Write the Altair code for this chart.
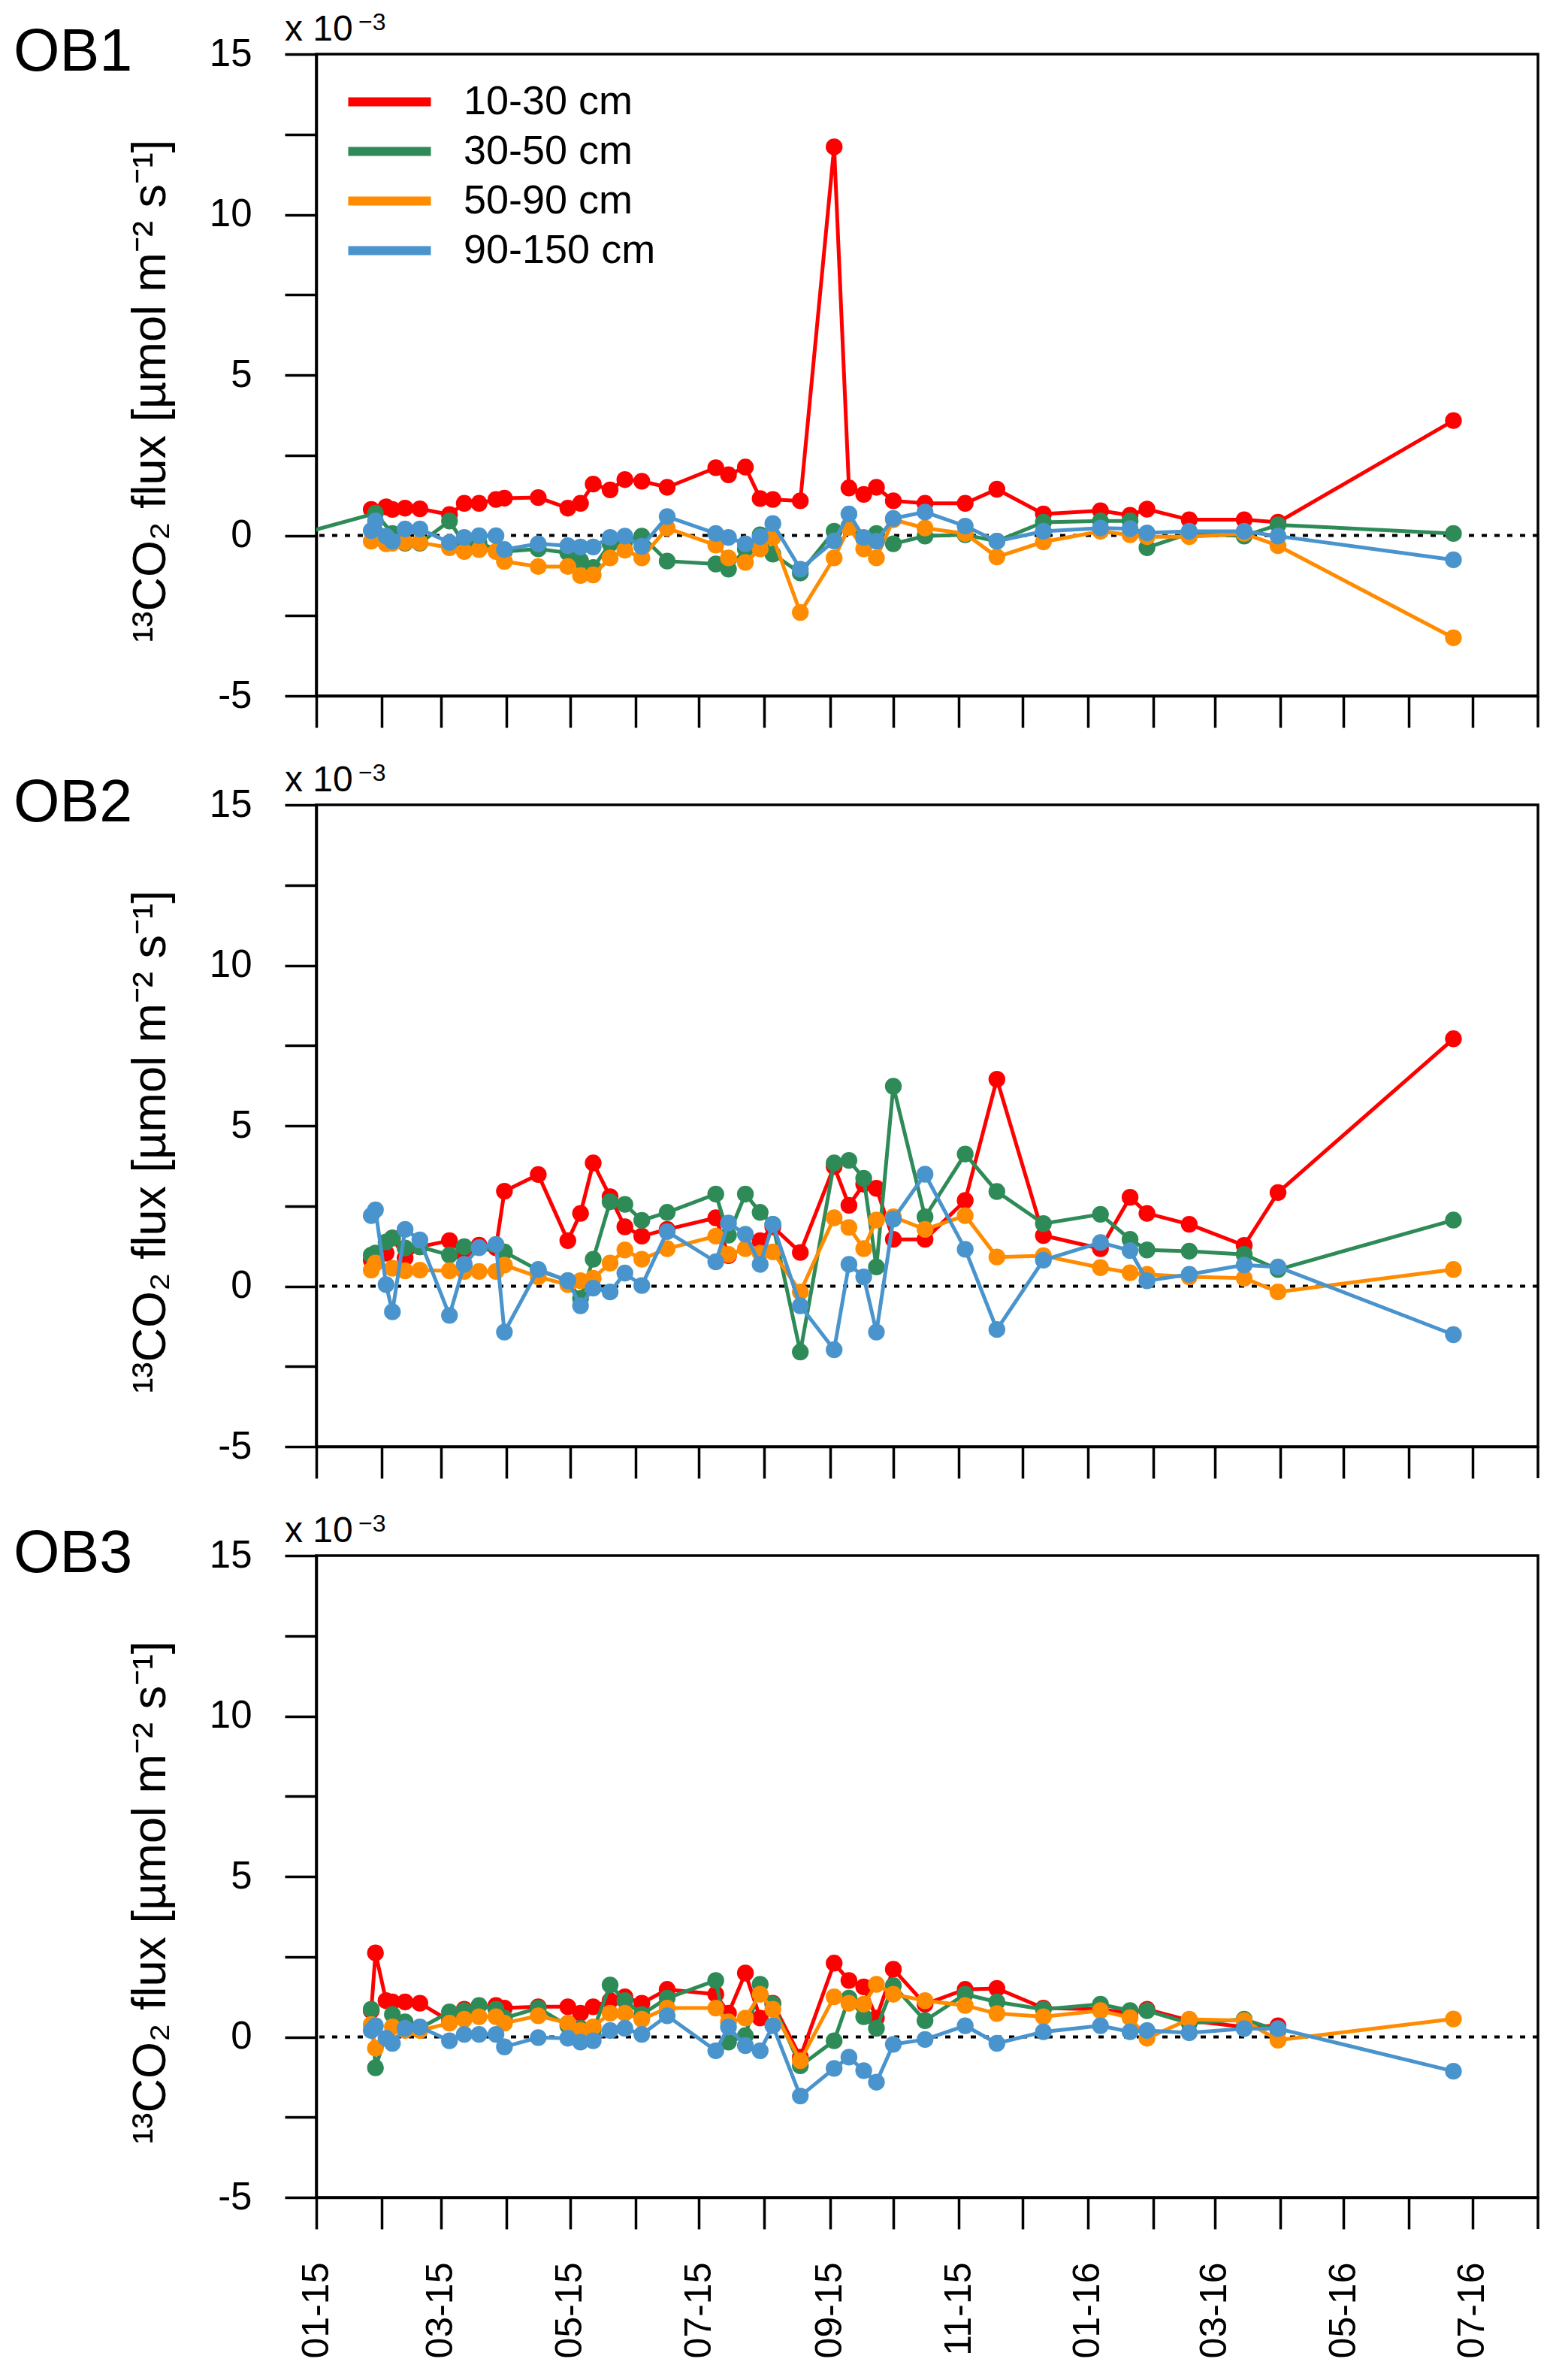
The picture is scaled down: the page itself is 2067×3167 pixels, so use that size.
import altair as alt
import pandas as pd

FONT = "Liberation Sans"

series = ["10-30 cm", "30-50 cm", "50-90 cm", "90-150 cm"]
colors = ["#ff0000", "#2e8b57", "#ff8c00", "#4a94cd"]

dates = ["2015-01-27", "2015-01-29", "2015-02-03", "2015-02-06", "2015-02-12", "2015-02-19",
         "2015-03-05", "2015-03-12", "2015-03-19", "2015-03-27", "2015-03-31", "2015-04-16",
         "2015-04-30", "2015-05-06", "2015-05-12", "2015-05-20", "2015-05-27", "2015-06-04",
         "2015-06-16", "2015-07-09", "2015-07-15", "2015-07-23", "2015-07-30", "2015-08-05",
         "2015-08-18", "2015-09-03", "2015-09-10", "2015-09-17", "2015-09-23", "2015-10-01",
         "2015-10-16", "2015-11-04", "2015-11-19", "2015-12-11", "2016-01-07", "2016-01-21",
         "2016-01-29", "2016-02-18", "2016-03-15", "2016-03-31", "2016-06-22"]

# OB1 (values in 1e-3 umol m-2 s-1)
ob1_red = [0.81, None, 0.89, 0.81, 0.85, 0.83, 0.65, 1.0, 1.0, 1.12, 1.16, 1.18,
           0.85, 1.0, 1.6, 1.42, 1.74, 1.69, 1.5, 2.11, 1.89, 2.13, 1.15, 1.12,
           1.08, 12.11, 1.48, 1.28, 1.5, 1.08, 1.0, 1.0, 1.44, 0.67, 0.77, 0.63,
           0.82, 0.49, 0.49, 0.41, 3.58]
ob1_green = [None, 0.69, None, 0.06, -0.24, -0.24, 0.45, -0.26, -0.25, None, -0.5, -0.42,
             -0.54, -0.78, -1.0, -0.26, -0.18, -0.02, -0.8, -0.89, -1.05, -0.42, 0.02, -0.58,
             -1.17, 0.13, 0.29, -0.1, 0.06, -0.26, -0.02, 0.02, -0.18, 0.41, 0.45, 0.45,
             -0.38, 0.06, -0.02, 0.33, 0.06]
ob1_orange = [-0.18, None, -0.26, -0.24, -0.22, -0.22, -0.38, -0.5, -0.44, -0.5, -0.81, -0.97,
              -0.97, -1.25, -1.23, -0.7, -0.46, -0.7, 0.23, -0.3, -0.7, -0.84, -0.42, -0.06,
              -2.4, -0.7, 0.25, -0.42, -0.7, 0.49, 0.23, 0.06, -0.67, -0.2, 0.13, 0.02,
              -0.04, -0.04, 0.06, -0.32, -3.19]
ob1_blue = [0.15, 0.45, -0.02, -0.18, 0.2, 0.2, -0.22, -0.06, -0.01, -0.01, -0.44, -0.26,
            -0.32, -0.36, -0.36, -0.06, -0.02, -0.34, 0.59, 0.06, -0.06, -0.26, -0.04, 0.37,
            -1.05, -0.17, 0.67, -0.06, -0.18, 0.53, 0.73, 0.29, -0.18, 0.13, 0.23, 0.21,
            0.08, 0.13, 0.13, -0.02, -0.76]
# OB1 30-50 cm has one earlier sample that lies left of the axis
ob1_green_lead_date = ["2014-12-10"]
ob1_green_lead = [-0.21]

# OB2
ob2_red = [0.81, None, 1.03, 1.5, 0.88, 1.23, 1.42, 0.99, 1.28, 1.2, 2.96, 3.48,
           1.42, 2.27, 3.84, 2.79, 1.85, 1.56, 1.77, 2.13, 0.95, None, 1.42, 1.85,
           1.05, 3.73, 2.52, 3.18, 3.05, 1.46, 1.46, 2.67, 6.45, 1.58, 1.17, 2.77,
           2.27, 1.93, 1.27, 2.92, 7.71]
ob2_green = [0.97, 1.03, 1.38, 1.5, 1.19, 1.23, 0.97, 1.23, None, None, 1.07, 0.5,
             0.17, -0.38, 0.84, 2.63, 2.55, 2.05, 2.3, 2.87, 1.59, 2.87, 2.3, 1.93,
             -2.05, 3.84, 3.92, 3.36, 0.6, 6.23, 2.16, 4.12, 2.95, 1.95, 2.24, 1.46,
             1.13, 1.09, 0.99, 0.52, 2.06]
ob2_orange = [0.5, 0.72, None, 0.56, 0.48, 0.5, 0.48, 0.46, 0.46, 0.46, 0.66, 0.29,
              0.05, 0.17, 0.25, 0.72, 1.13, 0.84, 1.17, 1.56, 0.99, 1.17, 1.03, 1.07,
              -0.18, 2.13, 1.83, 1.17, 2.06, 2.16, 1.77, 2.2, 0.91, 0.95, 0.58, 0.42,
              0.37, 0.29, 0.25, -0.18, 0.52]
ob2_blue = [2.2, 2.38, 0.05, -0.8, 1.77, 1.44, -0.91, 0.68, 1.2, 1.3, -1.43, 0.52,
            0.17, -0.61, -0.06, -0.18, 0.41, 0.02, 1.7, 0.76, 1.97, 1.62, 0.68, 1.93,
            -0.61, -1.98, 0.68, 0.29, -1.43, 2.09, 3.49, 1.15, -1.35, 0.81, 1.36, 1.11,
            0.17, 0.37, 0.66, 0.6, -1.51]

# OB3
ob3_red = [0.82, 2.62, 1.13, 1.09, 1.09, 1.05, 0.5, 0.86, None, 0.98, 0.9, 0.94,
           0.94, 0.74, 0.94, 1.13, 1.25, 1.05, 1.48, 1.33, 0.74, 1.99, 0.59, 1.05,
           -0.63, 2.3, 1.76, 1.56, 0.59, 2.11, 1.02, 1.48, 1.51, 0.9, 0.86, 0.74,
           0.86, 0.51, 0.31, 0.35, None]
ob3_green = [0.86, -0.96, None, 0.7, 0.47, 0.27, 0.78, 0.82, 0.98, 0.86, 0.59, 0.9,
             0.35, 0.27, 0.2, 1.62, 1.13, 0.7, 1.21, 1.76, -0.16, 0.04, 1.64, 1.02,
             -0.9, -0.12, 1.21, 0.63, 0.27, 1.6, 0.51, 1.33, 1.09, 0.86, 1.02, 0.82,
             0.82, 0.43, 0.55, 0.2, None]
ob3_orange = [0.39, -0.35, None, 0.31, 0.2, 0.2, 0.43, 0.55, 0.63, 0.63, 0.43, 0.66,
              0.43, 0.2, 0.31, 0.74, 0.74, 0.55, 0.9, 0.9, 0.47, 0.59, 1.33, 0.86,
              -0.74, 1.25, 1.05, 1.02, 1.64, 1.33, 1.13, 0.98, 0.73, 0.63, 0.82, 0.6,
              -0.04, 0.55, 0.51, -0.1, 0.56]
ob3_blue = [0.2, 0.35, -0.04, -0.2, 0.27, 0.31, -0.12, 0.08, 0.08, 0.08, -0.31, -0.02,
            -0.04, -0.16, -0.12, 0.2, 0.27, 0.08, 0.66, -0.43, 0.31, -0.27, -0.43, 0.35,
            -1.84, -0.98, -0.63, -1.05, -1.41, -0.23, -0.08, 0.35, -0.2, 0.16, 0.35, 0.16,
            0.2, 0.13, 0.26, 0.26, -1.07]

panels = [
    ("OB1", [ob1_red, ob1_green, ob1_orange, ob1_blue]),
    ("OB2", [ob2_red, ob2_green, ob2_orange, ob2_blue]),
    ("OB3", [ob3_red, ob3_green, ob3_orange, ob3_blue]),
]

y_ticks = [-5, -2.5, 0, 2.5, 5, 7.5, 10, 12.5, 15]
month_ticks = pd.date_range("2015-01-01", "2016-07-01", freq="MS", tz="UTC")
x_tick_ms = [int(t.timestamp() * 1000) for t in month_ticks]
x_end = ["2016-08-01"]  # last month tick, on the right frame edge

W, H = 1626, 854


def label(text, size, x, y):
    return alt.Chart(pd.DataFrame({"t": [text]})).mark_text(
        align="left", baseline="alphabetic", fontSize=size, font=FONT, color="black"
    ).encode(text="t:N", x=alt.value(x), y=alt.value(y))


def panel(name, values, first=False, last=False):
    x_axis = alt.Axis(values=x_tick_ms, labels=last, title=None, tickSize=42,
                      labelAngle=270, labelPadding=44, labelFontSize=50, labelFont=FONT,
                      labelOverlap=False, labelFlush=False,
                      labelExpr="utcmonth(datum.value) % 2 == 0 ? utcFormat(datum.value, '%m-%y') : ''")
    x = alt.X("date:T", axis=x_axis,
              scale=alt.Scale(type="utc", domain=[
                  alt.DateTime(year=2015, month=1, date=1, utc=True),
                  alt.DateTime(year=2016, month=8, date=1, utc=True)]))
    y = alt.Y("flux:Q", scale=alt.Scale(domain=[-5, 15], nice=False, zero=False),
              axis=alt.Axis(values=y_ticks, tickSize=42, labelPadding=44, labelFontSize=51,
                            labelFont=FONT, labelFlush=False,
                            labelExpr="datum.value % 5 == 0 ? '' + datum.value : ''",
                            title="¹³CO₂ flux [µmol m⁻² s⁻¹]", titleFontSize=63,
                            titleFont=FONT, titleFontWeight="normal", titlePadding=46,
                            titleY=448))

    zero = alt.Chart(pd.DataFrame({"v": [0]})).mark_rule(
        color="black", strokeWidth=4, strokeDash=[7, 10]).encode(y=alt.Y("v:Q"))
    end_tick = alt.Chart(pd.DataFrame({"date": x_end})).mark_rule(
        color="black", strokeWidth=3.5).encode(x=x, y=alt.value(H), y2=alt.value(H + 42))
    layers = [zero, end_tick]
    for i, (s, c, vals) in enumerate(zip(series, colors, values)):
        d = list(dates)
        v = list(vals)
        if first and i == 1:
            d = ob1_green_lead_date + d
            v = ob1_green_lead + v
        df = pd.DataFrame({"date": d, "flux": v, "series": s}).dropna()
        base = alt.Chart(df)
        if first:
            col = alt.Color("series:N", scale=alt.Scale(domain=series, range=colors),
                            legend=alt.Legend(orient="none", legendX=59, legendY=25, title=None,
                                              symbolType="M-1.7,0H1.7", symbolStrokeWidth=12,
                                              symbolSize=4190, labelFontSize=54, labelFont=FONT,
                                              labelOffset=60, rowPadding=0, labelColor="black",
                                              labelLimit=600, padding=0))
            line = base.mark_line(strokeWidth=5, clip=True).encode(x=x, y=y, color=col)
        else:
            line = base.mark_line(color=c, strokeWidth=5, clip=True).encode(x=x, y=y)
        pts = base.mark_circle(color=c, size=500, opacity=1, clip=True).encode(x=x, y=y)
        layers += [line, pts]

    layers += [label(name, 79, -403, 22), label("x 10", 48, -42, -18), label("\u22123", 32, 56, -32)]
    return alt.layer(*layers).properties(width=W, height=H)


charts = [panel(n, v, first=(k == 0), last=(k == 2)) for k, (n, v) in enumerate(panels)]

chart = alt.vconcat(*charts, spacing=145, bounds="flush").resolve_scale(color="independent").properties(
    padding={"left": 8, "top": 4, "right": 0, "bottom": 0}, background="white"
).configure_view(stroke="black", strokeWidth=3.5).configure_axis(
    grid=False, domainColor="black", domainWidth=3.5, tickColor="black", tickWidth=3.5,
    labelColor="black", titleColor="black")

chart.save("out.html", embed_options={"renderer": "svg", "actions": False})
